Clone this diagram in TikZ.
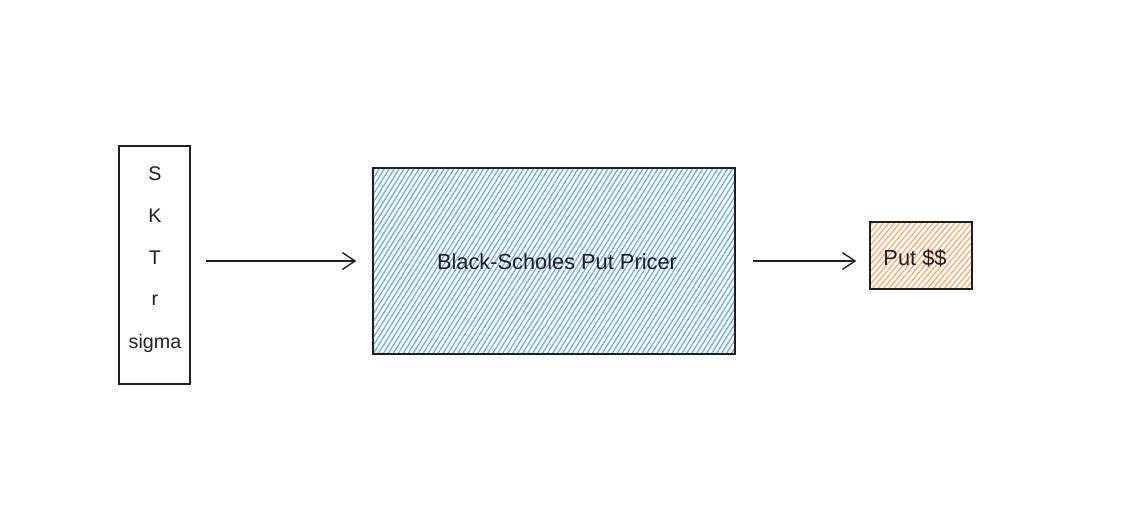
\documentclass[tikz,border=0pt]{standalone}
\usepackage{fontspec}
\setmainfont{Liberation Sans}
\usetikzlibrary{arrows.meta,patterns.meta}
\definecolor{ink}{HTML}{1E1E1E}
\definecolor{hatchblue}{HTML}{6FAAEA}
\definecolor{hatchorange}{HTML}{FFAA70}
\tikzset{
  box/.style={draw=ink, line width=1pt, inner sep=0pt},
  label/.style={text=ink, font=\fontsize{14}{16}\selectfont},
  link/.style={ink, line width=1pt, -{Straight Barb[length=9pt,width=12pt,line width=1pt]}},
}
\begin{document}
\begin{tikzpicture}[x=0.025cm,y=-0.025cm]
\useasboundingbox (0,0) rectangle (1127,521);
%\small
\node[box, minimum width=1.775cm, minimum height=5.95cm] (inputs) at (154.5,265) {};
\node[label] (s) at (155,174) {S};
\node[label] (k) at (155,216) {K};
\node[label] (t) at (155,258) {T};
\node[label] (r) at (155,300) {r};
\node[label] (sigma) at (155,343) {sigma};
\node[box, minimum width=9.05cm, minimum height=4.65cm,
  pattern={Lines[angle=58,distance=3pt,line width=0.9pt]}, pattern color=hatchblue] (pricer) at (554,261) {};
\node[label, font=\fontsize{15.5}{18}\selectfont] (pricername) at (557,262) {Black-Scholes Put Pricer};
\node[box, minimum width=2.55cm, minimum height=1.675cm,
  pattern={Lines[angle=50,distance=3pt,line width=0.9pt]}, pattern color=hatchorange] (put) at (921,255.5) {};
\node[label, font=\fontsize{15.5}{18}\selectfont] (putname) at (915,258) {Put \$\$};
\draw[link, shorten <=0.375cm, shorten >=0.4cm] (inputs.east |- pricer.west) -- (pricer.west);
\draw[link, shorten <=0.425cm, shorten >=0.325cm] (pricer.east) -- (pricer.east -| put.west);
\end{tikzpicture}
\end{document}
